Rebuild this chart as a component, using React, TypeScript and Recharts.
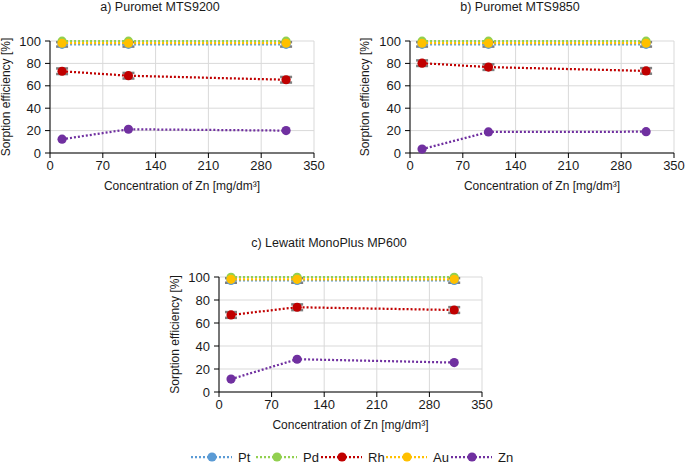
import React from 'react';
import { LineChart, Line, XAxis, YAxis, CartesianGrid, ErrorBar } from 'recharts';

const concentrations = [16, 104, 313];
const seriesNames = ['Pt', 'Pd', 'Rh', 'Au', 'Zn'];
const seriesColors = ['#5B9BD5', '#92D050', '#C00000', '#FFC000', '#7030A0'];
const xTicks = [0, 70, 140, 210, 280, 350];
const yTicks = [0, 20, 40, 60, 80, 100];
const panelTitles = ['a) Puromet MTS9200', 'b) Puromet MTS9850', 'c) Lewatit MonoPlus MP600'];
const xAxisTitle = 'Concentration of Zn [mg/dm³]';
const yAxisTitle = 'Sorption efficiency [%]';

// a) Puromet MTS9200
const ptA = [97, 97, 97];
const pdA = [99.8, 99.8, 99.8];
const rhA = [73, 69, 65.4];
const auA = [98, 98, 98];
const znA = [12.3, 21.2, 20];
// b) Puromet MTS9850
const ptB = [97, 97, 97];
const pdB = [99.8, 99.8, 99.8];
const rhB = [80.2, 76.7, 73.3];
const auB = [98, 98, 98];
const znB = [3.5, 18.8, 19];
// c) Lewatit MonoPlus MP600
const ptC = [97, 97, 97];
const pdC = [99.8, 99.8, 99.8];
const rhC = [67, 73.7, 71.3];
const auC = [98, 98, 98];
const znC = [11.2, 28.5, 25.6];

// error bars
const errPt = [2, 2, 2];
const errRh = [2.5, 2.5, 2.5];

const FONT = '"Liberation Sans", Arial, sans-serif';
const TEXT = '#1a1a1a';

function buildRows(pt: number[], pd: number[], rh: number[], au: number[], zn: number[]) {
  return concentrations.map((x, i) => ({
    x,
    Pt: pt[i],
    Pd: pd[i],
    Rh: rh[i],
    Au: au[i],
    Zn: zn[i],
    PtErr: errPt[i],
    RhErr: errRh[i],
  }));
}

const panelData = [
  buildRows(ptA, pdA, rhA, auA, znA),
  buildRows(ptB, pdB, rhB, auB, znB),
  buildRows(ptC, pdC, rhC, auC, znC),
];

type PanelProps = {
  data: any[];
  left: number;
  top: number;
  width: number;
  height: number;
  margin: { top: number; right: number; bottom: number; left: number };
  xAxisHeight: number;
  yAxisWidth: number;
  yLabelOffset: number;
};

function Panel({ data, left, top, width, height, margin, xAxisHeight, yAxisWidth, yLabelOffset }: PanelProps) {
  return (
    <div style={{ position: 'absolute', left, top, width, height }}>
      <LineChart width={width} height={height} data={data} margin={margin}>
        <CartesianGrid stroke="#d9d9d9" strokeWidth={1} horizontal vertical />
        <XAxis
          dataKey="x"
          type="number"
          domain={[0, 350]}
          ticks={xTicks}
          interval={0}
          height={xAxisHeight}
          stroke="#000"
          tickSize={5}
          tickMargin={3}
          tick={{ fill: TEXT, fontSize: 13, fontFamily: FONT }}
          label={{
            value: xAxisTitle,
            position: 'insideBottom',
            offset: 10,
            fill: TEXT,
            fontSize: 12,
            fontFamily: FONT,
          }}
        />
        <YAxis
          type="number"
          domain={[0, 100]}
          ticks={yTicks}
          interval={0}
          width={yAxisWidth}
          stroke="#000"
          tickSize={5}
          tickMargin={4}
          tick={{ fill: TEXT, fontSize: 13, fontFamily: FONT }}
          label={{
            value: yAxisTitle,
            angle: -90,
            position: 'insideLeft',
            offset: yLabelOffset,
            fill: TEXT,
            fontSize: 12,
            fontFamily: FONT,
            style: { textAnchor: 'middle' },
          }}
        />
        {seriesNames.map((name, i) => (
          <Line
            key={name}
            dataKey={name}
            type="linear"
            stroke={seriesColors[i]}
            strokeWidth={2.25}
            strokeDasharray="2 2"
            isAnimationActive={false}
            dot={{ r: 4.6, fill: seriesColors[i], stroke: seriesColors[i], strokeWidth: 0 }}
            activeDot={false}
          >
            {name === 'Pt' && (
              <ErrorBar dataKey="PtErr" direction="y" width={6} stroke="#7f7f7f" strokeWidth={2.5} />
            )}
            {name === 'Rh' && (
              <ErrorBar dataKey="RhErr" direction="y" width={6} stroke="#7f7f7f" strokeWidth={2.5} />
            )}
          </Line>
        ))}
      </LineChart>
    </div>
  );
}

function Title({ text, cx, y }: { text: string; cx: number; y: number }) {
  return (
    <div
      style={{
        position: 'absolute',
        left: cx - 150,
        top: y,
        width: 300,
        textAlign: 'center',
        fontFamily: FONT,
        fontSize: 12.5,
        color: TEXT,
        lineHeight: '15px',
        whiteSpace: 'nowrap',
      }}
    >
      {text}
    </div>
  );
}

function LegendRow({ left, top }: { left: number; top: number }) {
  const step = 65;
  return (
    <svg style={{ position: 'absolute', left, top, overflow: 'visible' }} width={360} height={24}>
      {seriesNames.map((name, i) => {
        const x0 = i * step;
        return (
          <g key={name}>
            <line
              x1={x0}
              y1={10}
              x2={x0 + 41}
              y2={10}
              stroke={seriesColors[i]}
              strokeWidth={2.25}
              strokeDasharray="2 2"
            />
            <circle cx={x0 + 21} cy={10} r={4.6} fill={seriesColors[i]} />
            <text x={x0 + 47} y={14.5} fontSize={13} fontFamily={FONT} fill={TEXT}>
              {name}
            </text>
          </g>
        );
      })}
    </svg>
  );
}

export default function App() {
  return (
    <div
      style={{
        position: 'absolute',
        left: 0,
        top: 0,
        width: 685,
        height: 463,
        overflow: 'hidden',
        background: '#fff',
      }}
    >
      <Title text={panelTitles[0]} cx={160} y={0} />
      <Title text={panelTitles[1]} cx={520} y={0} />
      <Title text={panelTitles[2]} cx={329} y={236} />
      <Panel
        data={panelData[0]}
        left={0}
        top={0}
        width={340}
        height={200}
        margin={{ top: 41, right: 26, bottom: 0, left: 0 }}
        xAxisHeight={47}
        yAxisWidth={50}
        yLabelOffset={6}
      />
      <Panel
        data={panelData[1]}
        left={350}
        top={0}
        width={335}
        height={200}
        margin={{ top: 41, right: 11, bottom: 0, left: 0 }}
        xAxisHeight={47}
        yAxisWidth={60}
        yLabelOffset={15}
      />
      <Panel
        data={panelData[2]}
        left={159}
        top={230}
        width={350}
        height={209}
        margin={{ top: 47, right: 27, bottom: 0, left: 0 }}
        xAxisHeight={47}
        yAxisWidth={60}
        yLabelOffset={16}
      />
      <LegendRow left={191} top={447} />
    </div>
  );
}
